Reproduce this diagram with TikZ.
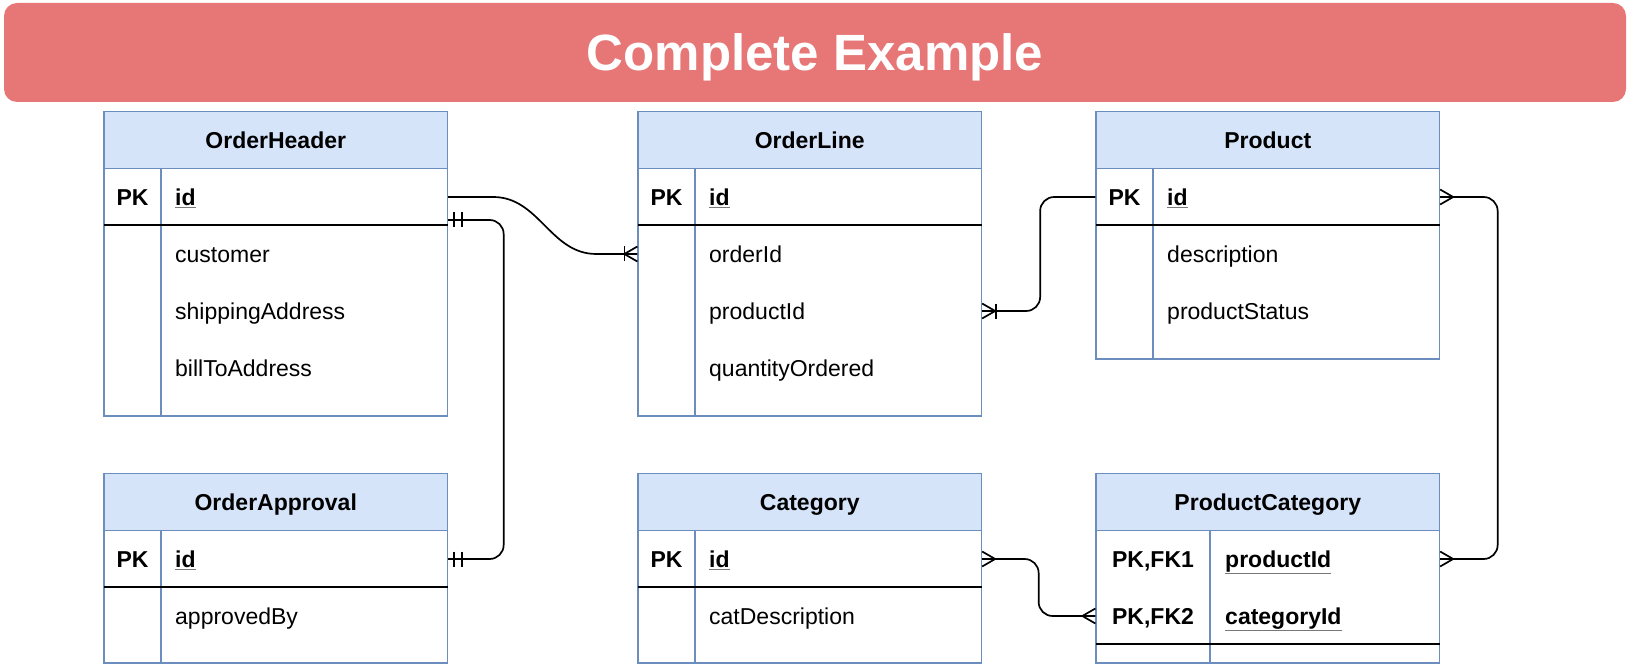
\documentclass[tikz,border=0pt]{standalone}
\usepackage{fontspec}
\setmainfont{Liberation Sans}
\usepackage{tikz}
\usetikzlibrary{positioning, calc}
\usepackage{xcolor}
\definecolor{titlered}{RGB}{231,119,118}
\definecolor{headblue}{RGB}{214,228,249}
\definecolor{tableblue}{RGB}{108,142,191}
\definecolor{keyline}{RGB}{120,120,120}
\newcommand{\tabfont}{\fontsize{23pt}{28pt}\selectfont}
% key field, underlined in grey
\newcommand{\keyname}[1]{\rlap{\textcolor{keyline}{\underline{\phantom{#1}}}}#1}
\tikzstyle{titlebar} = [rectangle, rounded corners=13pt,
fill=titlered,
text=white,
minimum width=1622pt,
minimum height=99pt,
font=\fontsize{51pt}{60pt}\selectfont\bfseries,
text height=36.5pt,
text depth=0pt]
\tikzstyle{tablebox} = [rectangle,
draw=tableblue,
line width=1.3pt,
fill=white,
minimum width=343.5pt,
inner sep=0pt]
\tikzstyle{tablehead} = [tablebox,
fill=headblue,
minimum height=57pt,
font=\tabfont\bfseries,
text height=16.5pt,
text depth=0pt]
\tikzstyle{keytext} = [font=\tabfont\bfseries, inner sep=0pt, text height=16.5pt, text depth=0pt]
\tikzstyle{fieldtext} = [anchor=west, font=\tabfont, inner sep=0pt, text height=16.5pt, text depth=0pt]
\tikzstyle{pkfield} = [fieldtext, font=\tabfont\bfseries]
\tikzstyle{colline} = [draw=tableblue, line width=1.3pt]
\tikzstyle{sepline} = [draw=black, line width=1.3pt]
\tikzstyle{relline} = [draw=black, line width=1.7pt]
% crow's foot and bar marks at a table edge
\newcommand{\crowfoot}[3]{\draw [relline] (#1) ++(#2,0) -- ++(#3,-7.5) (#1) ++(#2,0) -- ++(#3,7.5);}
\newcommand{\onebar}[2]{\draw [relline] (#1) ++(#2,-7.5) -- ++(0,15);}

\begin{document}
\begin{tikzpicture}[x=1pt, y=-1pt]
        \useasboundingbox (0,0) rectangle (1632,668);
        \node (title) [titlebar] at (815,52.5) {Complete Example};

        % OrderHeader
        \node (ohbox) [tablebox, minimum height=304.5pt] at (275.75,263.75) {};
        \node (ohhead) [tablehead] at (275.75,140) {OrderHeader};
        \draw [colline] (161,168.5) -- (161,416);
        \draw [sepline] (104,225) -- (447.5,225);
        \node (ohpk) [keytext] at (132.5,197) {PK};
        \node (ohid) [pkfield] at (175,197) {\keyname{id}};
        \node (ohcust) [fieldtext] at (175,254) {customer};
        \node (ohship) [fieldtext] at (175,311) {shippingAddress};
        \node (ohbill) [fieldtext] at (175,368) {billToAddress};

        % OrderLine
        \node (olbox) [tablebox, minimum height=304.5pt] at (809.75,263.75) {};
        \node (olhead) [tablehead] at (809.75,140) {OrderLine};
        \draw [colline] (695,168.5) -- (695,416);
        \draw [sepline] (638,225) -- (981.5,225);
        \node (olpk) [keytext] at (666.5,197) {PK};
        \node (olid) [pkfield] at (709,197) {\keyname{id}};
        \node (olorder) [fieldtext] at (709,254) {orderId};
        \node (olproduct) [fieldtext] at (709,311) {productId};
        \node (olqty) [fieldtext] at (709,368) {quantityOrdered};

        % Product
        \node (prbox) [tablebox, minimum height=247.5pt] at (1267.75,235.25) {};
        \node (prhead) [tablehead] at (1267.75,140) {Product};
        \draw [colline] (1153,168.5) -- (1153,359);
        \draw [sepline] (1096,225) -- (1439.5,225);
        \node (prpk) [keytext] at (1124.5,197) {PK};
        \node (prid) [pkfield] at (1167,197) {\keyname{id}};
        \node (prdesc) [fieldtext] at (1167,254) {description};
        \node (prstatus) [fieldtext] at (1167,311) {productStatus};

        % OrderApproval
        \node (oabox) [tablebox, minimum height=189.5pt] at (275.75,568.25) {};
        \node (oahead) [tablehead] at (275.75,502) {OrderApproval};
        \draw [colline] (161,530.5) -- (161,663);
        \draw [sepline] (104,587) -- (447.5,587);
        \node (oapk) [keytext] at (132.5,559) {PK};
        \node (oaid) [pkfield] at (175,559) {\keyname{id}};
        \node (oaby) [fieldtext] at (175,616) {approvedBy};

        % Category
        \node (cabox) [tablebox, minimum height=189.5pt] at (809.75,568.25) {};
        \node (cahead) [tablehead] at (809.75,502) {Category};
        \draw [colline] (695,530.5) -- (695,663);
        \draw [sepline] (638,587) -- (981.5,587);
        \node (capk) [keytext] at (666.5,559) {PK};
        \node (caid) [pkfield] at (709,559) {\keyname{id}};
        \node (cadesc) [fieldtext] at (709,616) {catDescription};

        % ProductCategory
        \node (pcbox) [tablebox, minimum height=189.5pt] at (1267.75,568.25) {};
        \node (pchead) [tablehead] at (1267.75,502) {ProductCategory};
        \draw [colline] (1210,530.5) -- (1210,663);
        \draw [sepline] (1096,644) -- (1439.5,644);
        \node (pckey1) [keytext] at (1153,559) {PK,FK1};
        \node (pckey2) [keytext] at (1153,616) {PK,FK2};
        \node (pcproduct) [pkfield] at (1225,559) {\keyname{productId}};
        \node (pccategory) [pkfield] at (1225,616) {\keyname{categoryId}};

        % relations
        \coordinate (ohlink) at ($(ohid -| ohbox.east)+(0,23)$);
        \draw [relline] (ohid -| ohbox.east) -- ++(45,0) to[out=0, in=180] ($(olorder -| olbox.west)+(-41,0)$) -- (olorder -| olbox.west);
        \draw [relline, rounded corners=14pt] (ohlink) -- ++(55.5,0) |- (oaid -| oabox.east);
        \draw [relline, rounded corners=14pt] (olproduct -| olbox.east) -- ++(58,0) |- (prid -| prbox.west);
        \draw [relline, rounded corners=14pt] (prid -| prbox.east) -- ++(57.5,0) |- (pcproduct -| pcbox.east);
        \draw [relline, rounded corners=14pt] (caid -| cabox.east) -- ++(56.5,0) |- (pccategory -| pcbox.west);

        \crowfoot{olorder -| olbox.west}{-13}{13}
        \onebar{olorder -| olbox.west}{-13}
        \onebar{ohlink}{6}
        \onebar{ohlink}{14}
        \onebar{oaid -| oabox.east}{6}
        \onebar{oaid -| oabox.east}{14}
        \crowfoot{olproduct -| olbox.east}{13}{-13}
        \onebar{olproduct -| olbox.east}{14}
        \crowfoot{prid -| prbox.east}{13}{-13}
        \crowfoot{pcproduct -| pcbox.east}{13}{-13}
        \crowfoot{caid -| cabox.east}{13}{-13}
        \crowfoot{pccategory -| pcbox.west}{-13}{13}
    \end{tikzpicture}
\end{document}
